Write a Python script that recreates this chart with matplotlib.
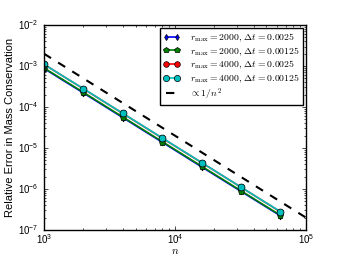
import matplotlib
matplotlib.use("Agg")
import matplotlib.pyplot as plt
import numpy as np

plt.style.use("classic")
plt.rcParams["mathtext.fontset"] = "cm"
plt.rcParams["font.family"] = ["Liberation Sans", "DejaVu Sans"]

n = [1000, 2000, 4000, 8000, 16000, 32000, 64000]
err_2000_0025 = [8.7e-4, 2.2e-4, 5.5e-5, 1.38e-5, 3.45e-6, 8.7e-7, 2.2e-7]
err_2000_00125 = [9.0e-4, 2.28e-4, 5.7e-5, 1.43e-5, 3.58e-6, 9.0e-7, 2.27e-7]
err_4000_0025 = [1.1e-3, 2.78e-4, 6.95e-5, 1.74e-5, 4.38e-6, 1.1e-6, 2.75e-7]
err_4000_00125 = [1.1e-3, 2.8e-4, 7.0e-5, 1.76e-5, 4.4e-6, 1.1e-6, 2.78e-7]
ref_n = [1e3, 1e5]
ref_val = [2e-3, 2e-7]

labels = [r"$r_{\max}=2000,\,\Delta t=0.0025$",
          r"$r_{\max}=2000,\,\Delta t=0.00125$",
          r"$r_{\max}=4000,\,\Delta t=0.0025$",
          r"$r_{\max}=4000,\,\Delta t=0.00125$",
          r"$\propto 1/n^2$"]

fig = plt.figure(figsize=(3.41, 2.56), dpi=100)
fig.patch.set_facecolor("white")
ax = fig.add_axes([0.129, 0.102, 0.768, 0.80])

ax.loglog(n, err_2000_0025, "b-d", lw=1.2, ms=3.5, label=labels[0])
ax.loglog(n, err_2000_00125, "g-p", lw=1.2, ms=4.5, label=labels[1])
ax.loglog(n, err_4000_0025, "r-o", lw=1.2, ms=4.5, label=labels[2])
ax.loglog(n, err_4000_00125, "c-o", lw=1.2, ms=5, label=labels[3])
ax.loglog(ref_n, ref_val, "k--", lw=1.5, label=labels[4])

ax.set_xlim(1e3, 1e5)
ax.set_ylim(1e-7, 1e-2)
ax.tick_params(labelsize=7, length=3)
ax.tick_params(axis="x", pad=2)
ax.tick_params(which="minor", length=1.5)
ax.set_xlabel(r"$n$", fontsize=8, labelpad=0)
ax.set_ylabel("Relative Error in Mass Conservation", fontsize=8, labelpad=2)
leg = ax.legend(loc="upper right", fontsize=7, numpoints=2, handlelength=1.75,
                borderpad=0.35, labelspacing=0.12, handletextpad=1.0,
                borderaxespad=0.3, markerscale=0.9)
fig.savefig("out.png", dpi=100)
